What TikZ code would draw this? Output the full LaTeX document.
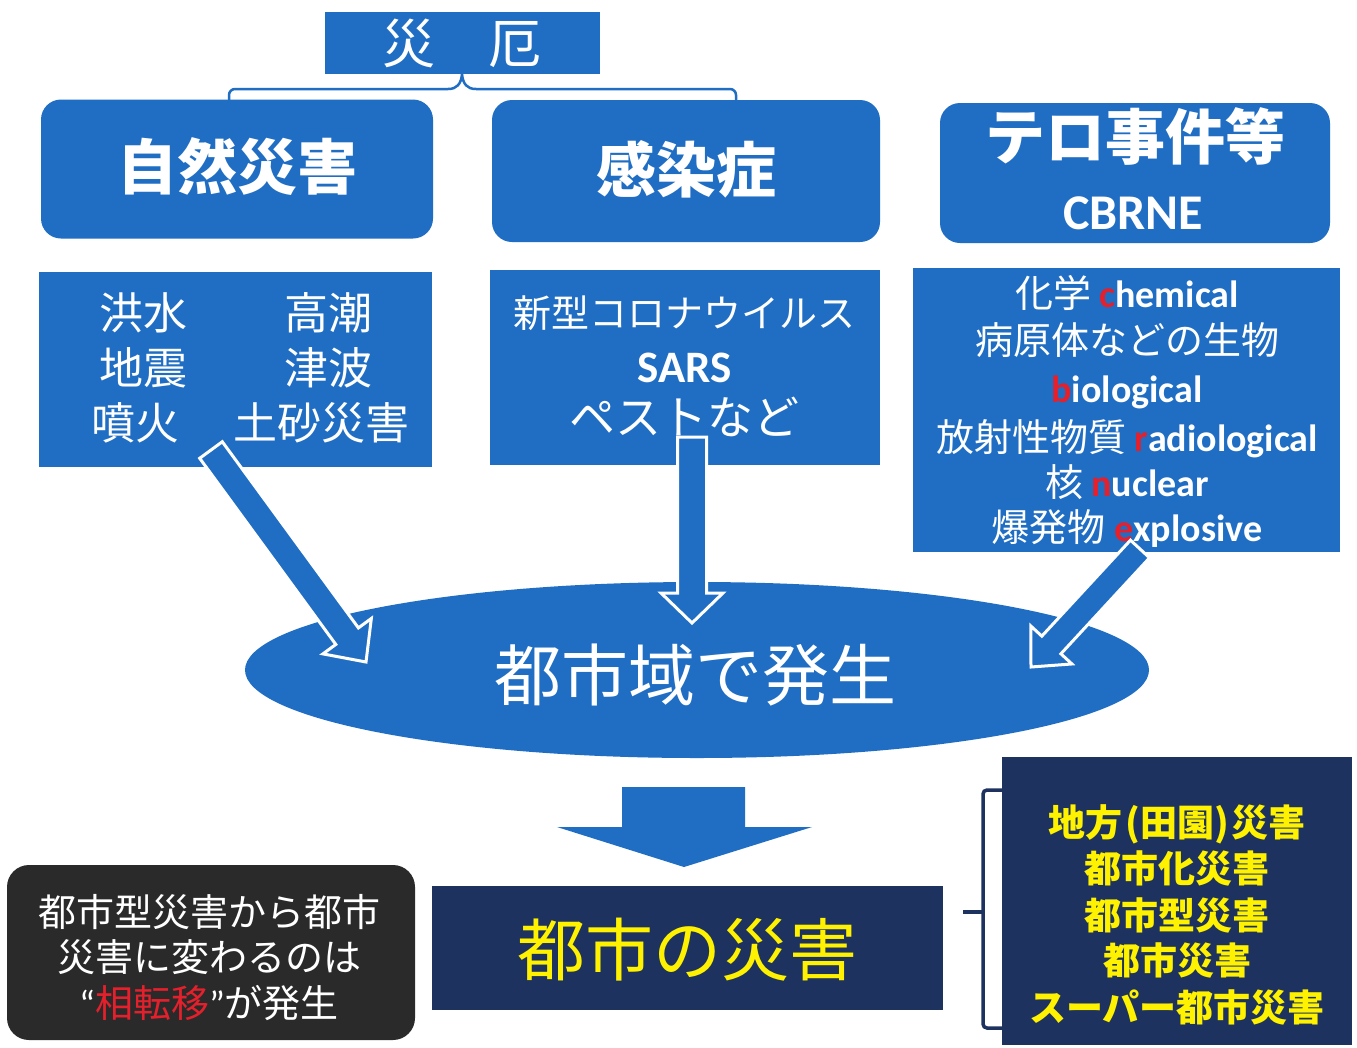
\documentclass[tikz,border=0pt]{standalone}
\usepackage{fontspec}
\usetikzlibrary{shapes.geometric,calc}
\newfontfamily\jp{Noto Sans CJK JP}
\newfontfamily\lat{Carlito}
\definecolor{cblue}{HTML}{1F6EC4}
\definecolor{cnavy}{HTML}{1E3260}
\definecolor{cdark}{HTML}{2A2A2A}
\definecolor{cyel}{HTML}{FFF200}
\definecolor{cred}{HTML}{E3202C}
\newcommand\fsz[1]{\fontsize{#1}{#1}\selectfont}
\newcommand\R[1]{\textcolor{cred}{#1}}
\tikzset{
  txt/.style={inner sep=0pt, text=white},
  sz/.style={text height=0pt, text depth=0pt, yshift={-0.38*#1}},
  bluebox/.style={fill=cblue, draw=none, inner sep=0pt},
  rbox/.style={bluebox, rounded corners=20pt},
  navybox/.style={fill=cnavy, draw=none, inner sep=0pt},
  blockarrow/.style={fill=cblue, draw=white, line width=3pt, line join=miter},
  bracket/.style={draw=cblue, line width=2.5pt},
  navybracket/.style={draw=cnavy, line width=3.5pt, rounded corners=4pt},
}
\begin{document}
\begin{tikzpicture}[x=1pt,y=-1pt]
\useasboundingbox[fill=white] (0,0) rectangle (1357,1047);

% top label
\node[bluebox, minimum width=275pt, minimum height=62pt] (sai) at (462,43) {};
\node[txt, sz=53, font=\jp\fsz{53}] (saiT) at (462,43) {災　厄};

% header boxes
\node[rbox, minimum width=392pt, minimum height=139pt] (nat) at (237,169) {};
\node[txt, sz=60, font=\jp\bfseries\fsz{60}] (natT) at (237,167) {自然災害};
\node[rbox, minimum width=388pt, minimum height=142pt] (inf) at (686,171) {};
\node[txt, sz=60, font=\jp\bfseries\fsz{60}] (infT) at (686,170) {感染症};
\node[rbox, minimum width=390pt, minimum height=140pt] (ter) at (1135,173) {};
\node[txt, sz=60, font=\jp\bfseries\fsz{60}] (terT) at (1135,137) {テロ事件等};
\node[txt, sz=46, font=\lat\bfseries\fsz{50}] (terC) at (1133,212) {CBRNE};

% bracket from top label
\draw[bracket, rounded corners=6pt] (229,104) -- (229,89) -- (448,89);
\draw[bracket] (448,89) .. controls (457,89) and (461,84) .. (sai.south)
               .. controls (463,84) and (467,89) .. (476,89);
\draw[bracket, rounded corners=6pt] (476,89) -- (736,89) -- (736,104);

% detail boxes
\node[bluebox, minimum width=393pt, minimum height=195pt] (natD) at (235.5,369.5) {};
\node[txt, sz=44, font=\jp\fsz{44}] (n1) at (143,313) {洪水};
\node[txt, sz=44, font=\jp\fsz{44}] (n2) at (328,313) {高潮};
\node[txt, sz=44, font=\jp\fsz{44}] (n3) at (143,368) {地震};
\node[txt, sz=44, font=\jp\fsz{44}] (n4) at (328,368) {津波};
\node[txt, sz=44, font=\jp\fsz{44}] (n5) at (135,423) {噴火};
\node[txt, sz=44, font=\jp\fsz{44}] (n6) at (321,423) {土砂災害};

\node[bluebox, minimum width=390pt, minimum height=195pt] (infD) at (685,367.5) {};
\node[txt, sz=38, font=\jp\fsz{38}] (i1) at (684,313) {新型コロナウイルス};
\node[txt, sz=42, font=\lat\bfseries\fsz{45}] (i2) at (685,367) {SARS};
\node[txt, sz=46, font=\jp\fsz{46}] (i3) at (684,417) {ペストなど};

\node[bluebox, minimum width=427pt, minimum height=284pt] (terD) at (1126.5,410) {};
\node[txt, sz=38, font=\jp\fsz{38}] (t1) at (1127,293) {化学 {\lat\bfseries\R{c}hemical}};
\node[txt, sz=38, font=\jp\fsz{38}] (t2) at (1127,340) {病原体などの生物};
\node[txt, sz=38, font=\lat\bfseries\fsz{38}] (t3) at (1127,388) {\R{b}iological};
\node[txt, sz=38, font=\jp\fsz{38}] (t4) at (1127,437) {放射性物質 {\lat\bfseries\R{r}adiological}};
\node[txt, sz=38, font=\jp\fsz{38}] (t5) at (1127,482) {核 {\lat\bfseries\R{n}uclear}};
\node[txt, sz=38, font=\jp\fsz{38}] (t6) at (1127,527) {爆発物 {\lat\bfseries\R{e}xplosive}};

% ellipse
\node[ellipse, fill=cblue, draw=none, minimum width=904pt, minimum height=176pt, inner sep=0pt] (ell) at (697,670) {};
\node[txt, sz=67, font=\jp\fsz{67}] (ellT) at (695,675) {都市域で発生};

% block arrows
\coordinate (aLt) at (211,450); \coordinate (aLp) at (366,662);
\coordinate (aLh) at ($(aLp)!32pt!(aLt)$);
\draw[blockarrow] ($(aLt)!14pt!90:(aLp)$) -- ($(aLh)!14pt!90:(aLp)$) -- ($(aLh)!30pt!90:(aLp)$) -- (aLp)
  -- ($(aLh)!30pt!-90:(aLp)$) -- ($(aLh)!14pt!-90:(aLp)$) -- ($(aLt)!14pt!-90:(aLp)$) -- cycle;

\coordinate (aMt) at (692,437); \coordinate (aMp) at (692,623);
\coordinate (aMh) at ($(aMp)!30pt!(aMt)$);
\draw[blockarrow] ($(aMt)!14.5pt!90:(aMp)$) -- ($(aMh)!14.5pt!90:(aMp)$) -- ($(aMh)!31pt!90:(aMp)$) -- (aMp)
  -- ($(aMh)!31pt!-90:(aMp)$) -- ($(aMh)!14.5pt!-90:(aMp)$) -- ($(aMt)!14.5pt!-90:(aMp)$) -- cycle;

\coordinate (aRt) at (1140,549); \coordinate (aRp) at (1031,667);
\coordinate (aRh) at ($(aRp)!30pt!(aRt)$);
\draw[blockarrow] ($(aRt)!13pt!90:(aRp)$) -- ($(aRh)!13pt!90:(aRp)$) -- ($(aRh)!28pt!90:(aRp)$) -- (aRp)
  -- ($(aRh)!28pt!-90:(aRp)$) -- ($(aRh)!13pt!-90:(aRp)$) -- ($(aRt)!13pt!-90:(aRp)$) -- cycle;

% big down arrow
\fill[cblue] (622,787) -- (745,787) -- (745,827) -- (812,827) -- (684,867) -- (557,827) -- (622,827) -- cycle;

% bottom: urban disaster
\node[navybox, minimum width=511pt, minimum height=124pt] (urb) at (687.5,948) {};
\node[txt, sz=68, text=cyel, font=\jp\fsz{68}] (urbT) at (687,950) {都市の災害};

% black rounded box
\node[fill=cdark, draw=none, rounded corners=22pt, minimum width=408pt, minimum height=175pt, inner sep=0pt] (blk) at (211,952.5) {};
\node[txt, sz=38, font=\jp\fsz{38}] (b1) at (209,912) {都市型災害から都市};
\node[txt, sz=38, font=\jp\fsz{38}] (b2) at (209,957) {災害に変わるのは};
\node[txt, sz=38, font=\jp\fsz{38}] (b3) at (209,1003) {{\lat “}\R{相転移}{\lat ”}が発生};

% right navy box
\node[navybox, minimum width=350pt, minimum height=288pt] (nav) at (1177,901) {};
\node[txt, sz=37, text=cyel, font=\jp\bfseries\fsz{37}] (r1) at (1177,822) {地方\kern0.08em(田園)\kern0.08em災害};
\node[txt, sz=37, text=cyel, font=\jp\bfseries\fsz{37}] (r2) at (1177,868) {都市化災害};
\node[txt, sz=37, text=cyel, font=\jp\bfseries\fsz{37}] (r3) at (1177,915) {都市型災害};
\node[txt, sz=37, text=cyel, font=\jp\bfseries\fsz{37}] (r4) at (1177,960) {都市災害};
\node[txt, sz=37, text=cyel, font=\jp\bfseries\fsz{37}] (r5) at (1177,1007) {スーパー都市災害};

% right bracket
\draw[navybracket] (nav.west |- 0,790) -- (983,790) -- (983,1028) -- (nav.west |- 0,1028);
\draw[draw=cnavy, line width=3.5pt] (963,912) -- (983,912);
\end{tikzpicture}
\end{document}
